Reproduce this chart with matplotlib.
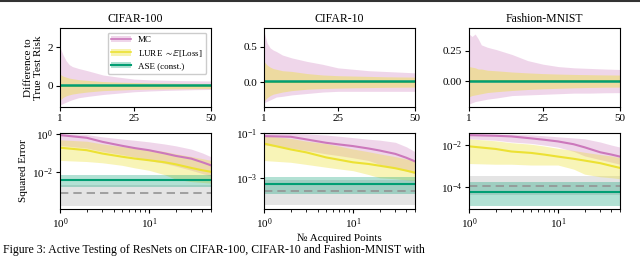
import numpy as np
import matplotlib
matplotlib.use("Agg")
import matplotlib.pyplot as plt
from matplotlib.patches import Patch
from matplotlib.lines import Line2D

plt.rcParams['font.family'] = ['Liberation Serif', 'DejaVu Serif']
plt.rcParams['mathtext.fontset'] = 'stix'
plt.rcParams['font.size'] = 8

C_MC = '#CC78BC'
C_LURE = '#ECE133'
C_ASE = '#029E73'
C_GRAY = '#949494'

datasets = ['CIFAR-100', 'CIFAR-10', 'Fashion-MNIST']

# ---- top row: difference to true test risk (linear x)
top_x = [1, 2, 3, 4, 5, 7, 10, 15, 20, 25, 30, 35, 40, 45, 50]

mc_hi = {
    'CIFAR-100': [2.0, 1.6, 1.3, 1.1, 1.0, 0.9, 0.78, 0.56, 0.45, 0.35, 0.31, 0.29, 0.27, 0.26, 0.25],
    'CIFAR-10': [0.71, 0.55, 0.48, 0.45, 0.43, 0.38, 0.34, 0.29, 0.25, 0.2, 0.18, 0.16, 0.15, 0.14, 0.13],
    'Fashion-MNIST': [0.39, 0.37, 0.39, 0.35, 0.3, 0.28, 0.26, 0.22, 0.17, 0.14, 0.12, 0.11, 0.105, 0.1, 0.096],
}
mc_lo = {
    'CIFAR-100': [-1.0, -0.92, -0.85, -0.78, -0.72, -0.62, -0.55, -0.45, -0.38, -0.31, -0.27, -0.24, -0.22, -0.2, -0.19],
    'CIFAR-10': [-0.29, -0.27, -0.25, -0.23, -0.21, -0.2, -0.18, -0.16, -0.14, -0.13, -0.13, -0.13, -0.13, -0.13, -0.13],
    'Fashion-MNIST': [-0.19, -0.18, -0.17, -0.165, -0.16, -0.15, -0.14, -0.12, -0.115, -0.11, -0.105, -0.1, -0.1, -0.097, -0.096],
}
lure_hi = {
    'CIFAR-100': [0.6, 0.5, 0.45, 0.4, 0.37, 0.32, 0.28, 0.22, 0.19, 0.17, 0.15, 0.14, 0.13, 0.125, 0.12],
    'CIFAR-10': [0.29, 0.24, 0.21, 0.19, 0.18, 0.16, 0.15, 0.12, 0.1, 0.09, 0.085, 0.08, 0.075, 0.072, 0.07],
    'Fashion-MNIST': [0.12, 0.115, 0.11, 0.1, 0.1, 0.09, 0.085, 0.075, 0.068, 0.062, 0.058, 0.055, 0.053, 0.051, 0.05],
}
lure_lo = {
    'CIFAR-100': [-0.75, -0.6, -0.52, -0.47, -0.43, -0.38, -0.32, -0.25, -0.22, -0.19, -0.17, -0.16, -0.15, -0.145, -0.14],
    'CIFAR-10': [-0.27, -0.22, -0.19, -0.17, -0.16, -0.14, -0.12, -0.1, -0.09, -0.085, -0.08, -0.077, -0.074, -0.072, -0.07],
    'Fashion-MNIST': [-0.13, -0.12, -0.115, -0.11, -0.105, -0.095, -0.088, -0.078, -0.07, -0.064, -0.06, -0.056, -0.053, -0.051, -0.05],
}
ase_diff = {'CIFAR-100': 0.06, 'CIFAR-10': 0.02, 'Fashion-MNIST': 0.0}
top_ylim = {'CIFAR-100': (-1.1, 3.0), 'CIFAR-10': (-0.35, 0.76), 'Fashion-MNIST': (-0.215, 0.44)}
top_ticks = {'CIFAR-100': [0, 2], 'CIFAR-10': [0.0, 0.5], 'Fashion-MNIST': [0.0, 0.25]}
top_ticklabels = {'CIFAR-100': ['0', '2'], 'CIFAR-10': ['0.0', '0.5'], 'Fashion-MNIST': ['0.00', '0.25']}

# ---- bottom row: squared error (log x)
bot_x = [1, 2, 3, 5, 7, 10, 15, 20, 30, 40, 50]

mc_mean = {
    'CIFAR-100': [0.89, 0.64, 0.39, 0.24, 0.18, 0.14, 0.095, 0.07, 0.05, 0.032, 0.022],
    'CIFAR-10': [0.076, 0.071, 0.054, 0.038, 0.032, 0.027, 0.021, 0.017, 0.012, 0.008, 0.0055],
    'Fashion-MNIST': [0.03, 0.028, 0.026, 0.021, 0.018, 0.015, 0.011, 0.0078, 0.0045, 0.0035, 0.0028],
}
mc_up = {
    'CIFAR-100': [1.05, 0.95, 0.72, 0.55, 0.47, 0.39, 0.3, 0.24, 0.16, 0.1, 0.063],
    'CIFAR-10': [0.1, 0.1, 0.095, 0.085, 0.075, 0.065, 0.055, 0.05, 0.04, 0.025, 0.015],
    'Fashion-MNIST': [0.035, 0.034, 0.033, 0.031, 0.028, 0.025, 0.022, 0.02, 0.014, 0.01, 0.008],
}
mc_dn = {
    'CIFAR-100': [0.25, 0.18, 0.12, 0.08, 0.06, 0.04, 0.028, 0.02, 0.012, 0.008, 0.006],
    'CIFAR-10': [0.03, 0.022, 0.017, 0.012, 0.01, 0.008, 0.006, 0.004, 0.0028, 0.002, 0.0015],
    'Fashion-MNIST': [0.02, 0.017, 0.014, 0.012, 0.01, 0.008, 0.005, 0.003, 0.002, 0.0015, 0.0012],
}
lure_mean = {
    'CIFAR-100': [0.19, 0.14, 0.093, 0.063, 0.05, 0.041, 0.032, 0.025, 0.016, 0.012, 0.01],
    'CIFAR-10': [0.035, 0.019, 0.014, 0.0083, 0.0065, 0.005, 0.0042, 0.0035, 0.0027, 0.0021, 0.0017],
    'Fashion-MNIST': [0.0087, 0.0065, 0.0049, 0.0042, 0.0035, 0.0028, 0.0022, 0.0018, 0.00135, 0.001, 0.0008],
}
lure_up = {
    'CIFAR-100': [0.5, 0.42, 0.3, 0.22, 0.18, 0.15, 0.12, 0.09, 0.065, 0.05, 0.04],
    'CIFAR-10': [0.08, 0.06, 0.045, 0.035, 0.027, 0.02, 0.015, 0.012, 0.009, 0.007, 0.006],
    'Fashion-MNIST': [0.02, 0.016, 0.013, 0.011, 0.009, 0.007, 0.0055, 0.0045, 0.0035, 0.003, 0.0025],
}
lure_dn = {
    'CIFAR-100': [0.04, 0.035, 0.03, 0.022, 0.016, 0.012, 0.007, 0.004, 0.003, 0.0027, 0.0025],
    'CIFAR-10': [0.006, 0.005, 0.004, 0.003, 0.0025, 0.0021, 0.0014, 0.001, 0.0009, 0.0008, 0.00076],
    'Fashion-MNIST': [0.0013, 0.0012, 0.0012, 0.0011, 0.0011, 0.0011, 0.0007, 0.0004, 0.0003, 0.00027, 0.00024],
}
ase_se = {'CIFAR-100': 0.0036, 'CIFAR-10': 0.00054, 'Fashion-MNIST': 5.8e-5}
ase_band = {'CIFAR-100': (0.0016, 0.0066), 'CIFAR-10': (0.00018, 0.00107), 'Fashion-MNIST': (1.2e-5, 1.6e-4)}
ref_se = {'CIFAR-100': 0.00076, 'CIFAR-10': 0.00025, 'Fashion-MNIST': 1.05e-4}
ref_band = {'CIFAR-100': (1.6e-4, 0.002), 'CIFAR-10': (5.9e-5, 8e-4), 'Fashion-MNIST': (4e-5, 3.2e-4)}
bot_ylim = {'CIFAR-100': (1.05e-4, 1.15), 'CIFAR-10': (3.9e-5, 0.105), 'Fashion-MNIST': (8.5e-6, 0.038)}
bot_ticks = {'CIFAR-100': [1e0, 1e-2], 'CIFAR-10': [1e-1, 1e-3], 'Fashion-MNIST': [1e-2, 1e-4]}

fig = plt.figure(figsize=(6.4, 2.57), dpi=100)
W, H = 640, 257
lefts = [60, 264, 469]
aw = 151


def ax_at(x0, y_top, y_bot):
    return fig.add_axes([x0 / W, 1 - y_bot / H, aw / W, (y_bot - y_top) / H])


for i, name in enumerate(datasets):
    # top panel
    ax = ax_at(lefts[i], 28, 107)
    ax.fill_between(top_x, mc_lo[name], mc_hi[name], color=C_MC, alpha=0.3, lw=0)
    ax.fill_between(top_x, lure_lo[name], lure_hi[name], color=C_LURE, alpha=0.4, lw=0)
    ax.plot(top_x, np.zeros(len(top_x)), color=C_MC, lw=1.2)
    ax.plot(top_x, np.zeros(len(top_x)), color=C_LURE, lw=1.2)
    ax.axhline(ase_diff[name], color=C_ASE, lw=1.8)
    ax.set_xlim(1, 50)
    ax.set_ylim(*top_ylim[name])
    ax.set_xticks([1, 25, 50])
    ax.set_yticks(top_ticks[name])
    ax.set_yticklabels(top_ticklabels[name])
    ax.set_title(name, fontsize=8.5, pad=4)
    ax.tick_params(length=3, width=0.8, labelsize=8, pad=2)
    if i == 0:
        ax.set_ylabel('Difference to\nTrue Test Risk', fontsize=8, labelpad=3)
        handles = [
            (Patch(color=C_MC, alpha=0.3, lw=0), Line2D([], [], color=C_MC, lw=1.2)),
            (Patch(color=C_LURE, alpha=0.4, lw=0), Line2D([], [], color=C_LURE, lw=1.2)),
            (Patch(color=C_ASE, alpha=0.3, lw=0), Line2D([], [], color=C_ASE, lw=1.5)),
        ]
        ax.legend(handles, ['MC', r'LURE $\sim\mathbb{E}$[Loss]', 'ASE (const.)'],
                  loc='upper right', fontsize=6.5, handlelength=2.2, labelspacing=0.35,
                  borderpad=0.4, framealpha=1, edgecolor='#cccccc', fancybox=True)

    # bottom panel
    ax = ax_at(lefts[i], 133, 209)
    ax.set_xscale('log')
    ax.set_yscale('log')
    ax.axhspan(*ref_band[name], color=C_GRAY, alpha=0.25, lw=0)
    ax.axhline(ref_se[name], color=C_GRAY, lw=1.2, ls=(0, (5, 3)))
    ax.fill_between(bot_x, mc_dn[name], mc_up[name], color=C_MC, alpha=0.3, lw=0)
    ax.fill_between(bot_x, lure_dn[name], lure_up[name], color=C_LURE, alpha=0.35, lw=0)
    ax.axhspan(*ase_band[name], color=C_ASE, alpha=0.3, lw=0)
    ax.plot(bot_x, mc_mean[name], color=C_MC, lw=1.5)
    ax.plot(bot_x, lure_mean[name], color=C_LURE, lw=1.5)
    ax.axhline(ase_se[name], color=C_ASE, lw=1.5)
    ax.set_xlim(1, 50)
    ax.set_ylim(*bot_ylim[name])
    ax.set_yticks(bot_ticks[name])
    ax.yaxis.set_minor_locator(matplotlib.ticker.NullLocator())
    ax.tick_params(length=3, width=0.8, labelsize=8, pad=2)
    ax.tick_params(which='minor', length=2, width=0.6)
    if i == 0:
        ax.set_ylabel('Squared Error', fontsize=8, labelpad=3)
    if i == 1:
        ax.set_xlabel('№ Acquired Points', fontsize=8, labelpad=2)

# page rule at the top and the caption line at the bottom
fig.add_artist(Line2D([0, 1], [0.996, 0.996], color='#333333', lw=1.5, transform=fig.transFigure))
fig.text(0.005, 1 / H, 'Figure 3: Active Testing of ResNets on CIFAR-100, CIFAR-10 and Fashion-MNIST with',
         fontsize=8.5, va='bottom', ha='left')

fig.savefig('out.png', dpi=100)
